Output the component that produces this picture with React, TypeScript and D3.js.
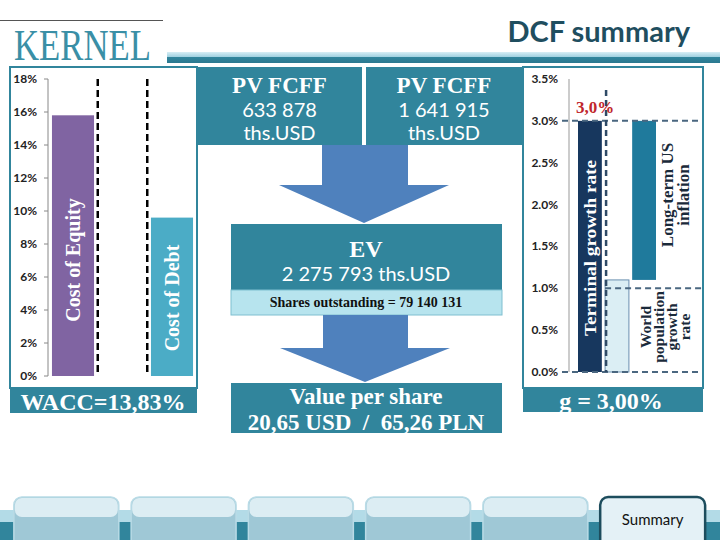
import React from "react";
import * as d3 from "d3";

// ---------- DATA ----------
const waccCategories = ["Cost of Equity", "gap", "Cost of Debt"];
const waccValues = [15.8, 0, 9.6];
const waccTicks = [0, 2, 4, 6, 8, 10, 12, 14, 16, 18];

const growthCategories = ["Terminal growth rate", "World population growth rate", "Long-term US inflation"];
const growthBase = [0, 0, 1.1];
const growthValues = [3.0, 1.1, 1.9];
const growthTicks = [0, 0.5, 1.0, 1.5, 2.0, 2.5, 3.0, 3.5];

const pvLabels = ["633 878", "1 641 915"];
const tabLabels = ["", "", "", "", "", "Summary"];

const TEAL = "#31859c";
const SERIF = "'Liberation Serif', 'Times New Roman', serif";
const SANS = "Lato, 'Open Sans', sans-serif";

export default function App() {
  const yL = d3.scaleLinear().domain([0, 18]).range([376, 79]);
  const xL = d3.scaleBand<string>().domain(waccCategories).range([48.25, 196.75]).paddingInner(0.15).paddingOuter(0.075);
  const stepL = xL.step();
  const gapL = (stepL - xL.bandwidth()) / 2;
  const dashL = [xL("Cost of Equity")! + xL.bandwidth() + gapL, xL("Cost of Debt")! - gapL];

  const yR = d3.scaleLinear().domain([0, 3.5]).range([372, 79]);
  const xR = d3.scaleBand<string>().domain(growthCategories).range([578, 656]).paddingInner(0.12);
  const growthColors = ["#17375e", "#dbeef4", "#1f7a9c"];

  const tabX = d3.scaleBand<number>().domain(d3.range(tabLabels.length)).range([8, 711]).paddingInner(0.105).paddingOuter(0.05);

  const arrow = (shaftL: number, shaftR: number, top: number, neck: number, headL: number, headR: number, tip: number) => {
    const cx = (headL + headR) / 2;
    return `M${shaftL},${top}L${shaftR},${top}L${shaftR},${neck}L${headR},${neck}L${cx},${tip}L${headL},${neck}L${shaftL},${neck}Z`;
  };

  return (
    <div style={{ position: "absolute", left: 0, top: 0 }}>
      <svg width={720} height={540} style={{ display: "block", background: "#fff" }}>
        <defs>
          <linearGradient id="hdr" x1="0" y1="0" x2="0" y2="1">
            <stop offset="0" stopColor="#d7eef5" />
            <stop offset="0.45" stopColor="#9fd0e0" />
            <stop offset="0.5" stopColor={TEAL} />
            <stop offset="1" stopColor="#2b7890" />
          </linearGradient>
        </defs>

        {/* header */}
        <line x1={0} x2={163} y1={20.5} y2={20.5} stroke="#555" strokeWidth={1} />
        <text x={14} y={60} fontFamily={SERIF} fontSize={44} fill="#3a8fa6" textLength={137} lengthAdjust="spacingAndGlyphs">KERNEL</text>
        <rect x={167} y={52} width={553} height={11} fill="url(#hdr)" />
        <text x={690} y={42} textAnchor="end" fontFamily={SANS} fontWeight={700} fontSize={29} fill="#1f4e5f">DCF summary</text>

        {/* left panel */}
        <rect x={10} y={67} width={187} height={321} fill="#fff" stroke={TEAL} strokeWidth={2} />
        <line x1={48} x2={48} y1={yL(18)} y2={yL(0)} stroke="#888" strokeWidth={1} />
        {waccTicks.map((t) => (
          <g key={"lt" + t}>
            <line x1={44} x2={48} y1={yL(t)} y2={yL(t)} stroke="#888" />
            <text x={37} y={yL(t) + 4} textAnchor="end" fontFamily={SANS} fontWeight={700} fontSize={12} fill="#222">{t}%</text>
          </g>
        ))}
        {waccCategories.map((c, i) =>
          waccValues[i] > 0 ? (
            <g key={c}>
              <rect x={xL(c)} y={yL(waccValues[i])} width={xL.bandwidth()} height={yL(0) - yL(waccValues[i])} fill={i === 0 ? "#8064a2" : "#4bacc6"} />
              <text
                transform={`translate(${xL(c)! + xL.bandwidth() / 2 + 7},${i === 0 ? 260 : 298}) rotate(-90)`}
                textAnchor="middle" fontFamily={SERIF} fontWeight={700} fontSize={20} fill="#fff">{c}</text>
            </g>
          ) : null
        )}
        {dashL.map((x, i) => (
          <line key={"dl" + i} x1={x} x2={x} y1={yL(18)} y2={yL(0)} stroke="#000" strokeWidth={2.5} strokeDasharray="7,4" />
        ))}
        <rect x={10} y={388} width={187} height={25} fill={TEAL} />
        <text x={103} y={410} textAnchor="middle" fontFamily={SERIF} fontWeight={700} fontSize={24} fill="#fff">WACC=13,83%</text>

        {/* middle */}
        {[[197, 362], [366, 522]].map(([a, b], i) => (
          <g key={"pv" + i}>
            <rect x={a} y={67} width={b - a} height={78} fill={TEAL} />
            <text x={(a + b) / 2} y={93} textAnchor="middle" fontFamily={SERIF} fontWeight={700} fontSize={23} fill="#fff">PV FCFF</text>
            <text x={(a + b) / 2} y={117} textAnchor="middle" fontFamily={SANS} fontSize={20} fill="#fff">{pvLabels[i]}</text>
            <text x={(a + b) / 2} y={140} textAnchor="middle" fontFamily={SANS} fontSize={20} fill="#fff">ths.USD</text>
          </g>
        ))}
        <path d={arrow(322, 408, 145, 185, 279, 449, 223)} fill="#4f81bd" />
        <rect x={231} y={224} width={271} height={66} fill={TEAL} />
        <text x={366} y={257} textAnchor="middle" fontFamily={SERIF} fontWeight={700} fontSize={24} fill="#fff">EV</text>
        <text x={366} y={281} textAnchor="middle" fontFamily={SANS} fontSize={20} fill="#fff">2 275 793 ths.USD</text>
        <rect x={231} y={290} width={271} height={25} fill="#b7e4ee" stroke="#7fbfd0" strokeWidth={1} />
        <text x={366} y={307} textAnchor="middle" fontFamily={SERIF} fontWeight={700} fontSize={14} fill="#111">Shares outstanding = 79 140 131</text>
        <path d={arrow(323, 408, 315, 348, 280, 450, 382)} fill="#4f81bd" />
        <rect x={231} y={383} width={271} height={50} fill={TEAL} />
        <text x={366} y={404} textAnchor="middle" fontFamily={SERIF} fontWeight={700} fontSize={23} fill="#fff">Value per share</text>
        <text x={366} y={430} textAnchor="middle" fontFamily={SERIF} fontWeight={700} fontSize={23} fill="#fff" xmlSpace="preserve">20,65 USD  /  65,26 PLN</text>

        {/* right panel */}
        <rect x={523} y={67} width={180} height={321} fill="#fff" stroke={TEAL} strokeWidth={2} />
        <line x1={569} x2={569} y1={yR(3.5)} y2={yR(0)} stroke="#999" strokeWidth={1} />
        {growthTicks.map((t) => (
          <text key={"rt" + t} x={558} y={yR(t) + 4} textAnchor="end" fontFamily={SANS} fontWeight={700} fontSize={12} fill="#222">{t.toFixed(1)}%</text>
        ))}
        {growthCategories.map((c, i) => (
          <rect key={c} x={xR(c)} y={yR(growthBase[i] + growthValues[i])} width={xR.bandwidth()}
            height={yR(growthBase[i]) - yR(growthBase[i] + growthValues[i])}
            fill={growthColors[i]} stroke={i === 1 ? "#6a8fb0" : "none"} strokeWidth={1} />
        ))}
        <line x1={562} x2={702} y1={yR(3.0)} y2={yR(3.0)} stroke="#4a6780" strokeWidth={2} strokeDasharray="6,4" />
        <line x1={xR(growthCategories[1])} x2={702} y1={yR(1.0)} y2={yR(1.0)} stroke="#4a6780" strokeWidth={2} strokeDasharray="6,4" />
        <line x1={562} x2={702} y1={yR(0)} y2={yR(0)} stroke="#4a6780" strokeWidth={2} strokeDasharray="6,4" />
        <line x1={xR(growthCategories[1])! + 1} x2={xR(growthCategories[1])! + 1} y1={90} y2={yR(0)} stroke="#2f4a66" strokeWidth={2.5} strokeDasharray="6,4" />
        <text x={595} y={113} textAnchor="middle" fontFamily={SERIF} fontWeight={700} fontSize={17} fill="#c0262c">3,0%</text>
        <text transform={`translate(${xR(growthCategories[0])! + xR.bandwidth() / 2 + 6},248) rotate(-90)`}
          textAnchor="middle" fontFamily={SERIF} fontWeight={700} fontSize={17} fill="#fff" textLength={176} lengthAdjust="spacingAndGlyphs">Terminal growth rate</text>
        <text transform={`translate(673,195) rotate(-90)`} textAnchor="middle" fontFamily={SERIF} fontWeight={700} fontSize={17} fill="#1a2a3a">
          <tspan x={0} dy={0}>Long-term US</tspan>
          <tspan x={0} dy={16}>inflation</tspan>
        </text>
        <text transform={`translate(651,327) rotate(-90)`} textAnchor="middle" fontFamily={SERIF} fontWeight={700} fontSize={15.5} fill="#1a2a3a">
          <tspan x={0} dy={0}>World</tspan>
          <tspan x={0} dy={13}>population</tspan>
          <tspan x={0} dy={13}>growth</tspan>
          <tspan x={0} dy={13}>rate</tspan>
        </text>
        <rect x={523} y={388} width={180} height={24} fill={TEAL} />
        <text x={611} y={409} textAnchor="middle" fontFamily={SERIF} fontWeight={700} fontSize={24} fill="#fff">g = 3,00%</text>

        {/* bottom navigation */}
        <rect x={0} y={510} width={720} height={12} fill="#b3dbe7" />
        <rect x={0} y={522} width={720} height={18} fill={TEAL} />
        {tabLabels.map((l, i) => {
          const x = tabX(i)!;
          const w = tabX.bandwidth();
          const active = l !== "";
          return (
            <g key={"tab" + i}>
              <rect x={x} y={497} width={w} height={56} rx={8} fill={active ? "#e4f1f6" : "#9fc8d6"}
                stroke={active ? "#1d4d5d" : "#b9dbe6"} strokeWidth={active ? 2.5 : 1.5} />
              {!active && <rect x={x + 1} y={498} width={w - 2} height={19} rx={7} fill="#dcedf3" />}
              {active && <text x={x + w / 2} y={525} textAnchor="middle" fontFamily={SANS} fontSize={15} fill="#111">{l}</text>}
            </g>
          );
        })}
      </svg>
    </div>
  );
}
